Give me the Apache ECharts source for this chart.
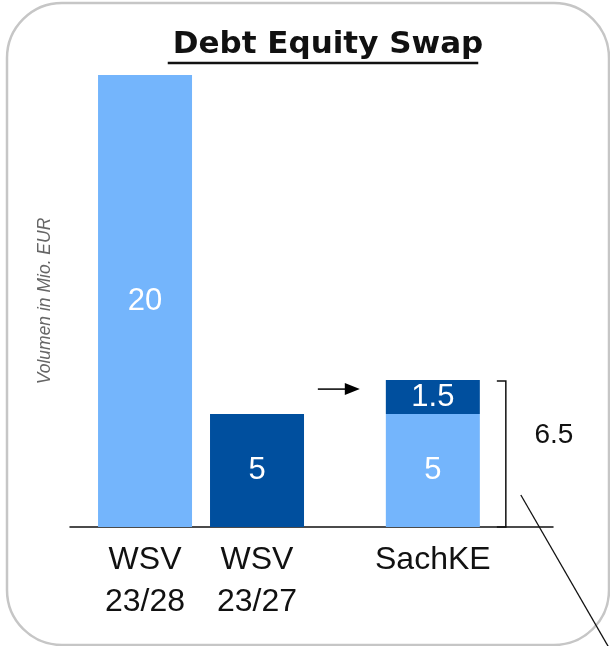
<!DOCTYPE html>
<html>
<head>
<meta charset="utf-8">
<script src="https://cdn.jsdelivr.net/npm/echarts@6/dist/echarts.min.js"></script>
<style>
  html, body { margin: 0; padding: 0; background: #fff; }
  #main { width: 610px; height: 646px; }
</style>
</head>
<body>
<div id="main"></div>
<script>
// data
const categories = ['WSV\n23/28', 'WSV\n23/27', 'SachKE'];
const xPos = [1, 2, 3.57];          // bar positions along the baseline
const lightValues = [20, '-', 5];
const darkValues = ['-', 5, 1.5];
const sachTotal = 6.5;

const LIGHT = '#74b5fc';
const DARK = '#004f9e';
const TITLE_FONT = 'bold 31px "DejaVu Sans"';

var myChart = echarts.init(document.getElementById('main'));

// value first so the stack is done on y (x is a value axis here)
function barData(vals) {
  return xPos.map(function (x, i) { return [vals[i], x]; });
}

var labelStyle = {
  show: true,
  position: 'inside',
  color: '#fff',
  fontSize: 31,
  fontFamily: 'Liberation Sans',
  formatter: function (p) { return p.value[0]; }
};

var option = {
  animation: false,
  title: {
    text: 'Debt Equity Swap',
    left: 323,
    textAlign: 'center',
    top: 24,
    textStyle: { fontSize: 31, fontWeight: 'bold', fontFamily: 'DejaVu Sans', color: '#111' }
  },
  grid: { left: 70, right: 57, top: 75, bottom: 119 },
  xAxis: {
    type: 'value',
    min: 0.33,
    max: 4.643,
    axisLine: { show: true, lineStyle: { color: '#111', width: 1.5 } },
    axisTick: { show: false },
    splitLine: { show: false },
    axisLabel: {
      customValues: xPos,
      formatter: function (v) {
        var i = xPos.indexOf(v);
        return i >= 0 ? categories[i] : '';
      },
      color: '#111',
      fontSize: 32,
      lineHeight: 42,
      fontFamily: 'Liberation Sans',
      margin: 12
    }
  },
  yAxis: {
    type: 'value',
    min: 0,
    max: 20,
    axisLine: { show: false },
    axisTick: { show: false },
    axisLabel: { show: false },
    splitLine: { show: false },
    name: 'Volumen in Mio. EUR',
    nameLocation: 'middle',
    nameRotate: 90,
    nameGap: 16,
    nameTextStyle: { fontStyle: 'italic', fontSize: 17.5, color: '#666', fontFamily: 'Liberation Sans' }
  },
  series: [
    {
      type: 'bar',
      stack: 'v',
      barWidth: 94,
      encode: { x: 1, y: 0 },
      data: barData(lightValues),
      itemStyle: { color: LIGHT },
      label: labelStyle
    },
    {
      type: 'bar',
      stack: 'v',
      barWidth: 94,
      encode: { x: 1, y: 0 },
      data: barData(darkValues),
      itemStyle: { color: DARK },
      label: labelStyle
    }
  ]
};
option && myChart.setOption(option);

// annotations placed from the axes
var pTop = myChart.convertToPixel({ gridIndex: 0 }, [xPos[2], sachTotal]);
var pBase = myChart.convertToPixel({ gridIndex: 0 }, [xPos[2], 0]);
var cx = pTop[0];
var bx = cx + 73;

var ctx = document.createElement('canvas').getContext('2d');
ctx.font = TITLE_FONT;
var tw = ctx.measureText(option.title.text).width;

myChart.setOption({
  graphic: [
    {
      type: 'rect',
      shape: { x: 7, y: 3, width: 602, height: 642, r: 55 },
      style: { fill: null, stroke: '#c6c6c6', lineWidth: 2.5 },
      silent: true
    },
    {
      // title underline
      type: 'line',
      shape: { x1: 323 - tw / 2, y1: 63, x2: 323 + tw / 2, y2: 63 },
      style: { stroke: '#111', lineWidth: 2.5 }
    },
    {
      // arrow pointing at the SachKE bar
      type: 'group',
      children: [
        { type: 'line', shape: { x1: cx - 115, y1: pTop[1] + 9, x2: cx - 86, y2: pTop[1] + 9 }, style: { stroke: '#000', lineWidth: 1.5 } },
        { type: 'polygon', shape: { points: [[cx - 88, pTop[1] + 3], [cx - 73, pTop[1] + 9], [cx - 88, pTop[1] + 15]] }, style: { fill: '#000' } }
      ]
    },
    {
      type: 'polyline',
      shape: { points: [[bx - 9, pTop[1] + 1], [bx, pTop[1] + 1], [bx, pBase[1]], [bx - 9, pBase[1]]] },
      style: { stroke: '#111', lineWidth: 1.5, fill: null }
    },
    {
      type: 'text',
      x: cx + 121,
      y: pTop[1] + 55,
      style: { text: String(sachTotal), fontSize: 28, fontFamily: 'Liberation Sans', fill: '#111', align: 'center', verticalAlign: 'middle' }
    },
    {
      type: 'line',
      shape: { x1: bx + 15, y1: pBase[1] - 32, x2: bx + 105, y2: pBase[1] + 124 },
      style: { stroke: '#111', lineWidth: 1.3 }
    }
  ]
});
</script>
</body>
</html>
